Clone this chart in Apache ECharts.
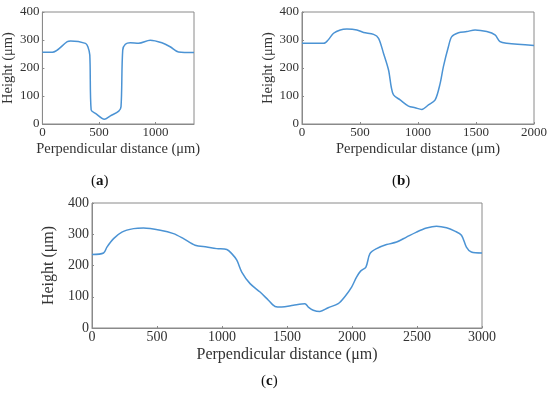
<!DOCTYPE html>
<html><head><meta charset="utf-8">
<script src="https://cdn.jsdelivr.net/npm/echarts@6/dist/echarts.min.js"></script>
<style>html,body{margin:0;padding:0;background:#fff}#c{width:550px;height:396px}</style>
</head><body><div id="c"></div>
<script>
// Panel (a)
const xA = [0, 88, 220, 249, 381, 402, 419, 431, 469, 548, 601, 675, 695, 710, 733, 777, 851, 953, 1056, 1129, 1203, 1340];
const yA = [256, 256, 294, 296, 288, 276, 246, 50, 38, 17, 29, 46, 62, 264, 285, 290, 288, 299, 290, 276, 257, 255];
// Panel (b)
const xB = [0, 186, 229, 272, 330, 387, 473, 531, 617, 660, 703, 746, 769, 789, 846, 918, 975, 1033, 1090, 1148, 1191, 1219, 1262, 1291, 1349, 1421, 1492, 1593, 1664, 1707, 1765, 2000];
const yB = [288, 288, 302, 324, 336, 339, 336, 327, 320, 306, 252, 193, 133, 104, 86, 64, 58, 52, 68, 86, 145, 205, 276, 312, 326, 330, 336, 330, 318, 294, 288, 280];
// Panel (c)
const xC = [0, 89, 115, 166, 230, 320, 396, 525, 627, 704, 793, 883, 960, 1037, 1075, 1114, 1152, 1216, 1293, 1357, 1408, 1459, 1549, 1638, 1664, 1702, 1753, 1817, 1894, 1946, 1997, 2035, 2066, 2107, 2138, 2189, 2266, 2343, 2419, 2496, 2573, 2650, 2727, 2791, 2842, 2880, 2918, 3000];
const yC = [235, 240, 259, 286, 307, 318, 320, 313, 302, 286, 265, 259, 254, 251, 238, 217, 179, 142, 115, 89, 69, 67, 73, 78, 67, 57, 53, 65, 78, 101, 131, 163, 182, 195, 238, 254, 267, 275, 291, 307, 320, 326, 321, 310, 297, 259, 243, 240];
const yTicks = [0, 100, 200, 300, 400];
const captions = ['a', 'b', 'c'];
const xLabel = 'Perpendicular distance (μm)';
const yLabel = 'Height (μm)';

const FONT = 'Liberation Serif';
const AX = '#8a8a8a';
const TXT = '#333';
const LINE = '#4b93d4';

function pairs(xs, ys) { return xs.map((x, i) => [x, ys[i]]); }

function xAxis(idx, max, interval, fs, nfs, gap) {
  return {
    type: 'value', gridIndex: idx, min: 0, max: max, interval: interval,
    name: xLabel, nameLocation: 'middle', nameGap: gap,
    nameTextStyle: { fontFamily: FONT, fontSize: nfs, color: TXT },
    axisLine: { show: true, onZero: false, lineStyle: { color: AX, width: 1 } },
    axisTick: { show: true, inside: true, length: 2, lineStyle: { color: AX } },
    axisLabel: { fontFamily: FONT, fontSize: fs, color: TXT, margin: 2, showMaxLabel: max % interval === 0,
      formatter: v => String(v) },
    splitLine: { show: false }
  };
}
function yAxis(idx, fs, nfs, gap) {
  return {
    type: 'value', gridIndex: idx, min: 0, max: 400, interval: 100,
    name: yLabel, nameLocation: 'middle', nameGap: gap,
    nameTextStyle: { fontFamily: FONT, fontSize: nfs, color: TXT },
    axisLine: { show: true, lineStyle: { color: AX, width: 1 } },
    axisTick: { show: true, inside: true, length: 2, lineStyle: { color: AX } },
    axisLabel: { fontFamily: FONT, fontSize: fs, color: TXT, margin: 3, formatter: v => String(v) },
    splitLine: { show: false }
  };
}
function series(idx, xs, ys) {
  return {
    type: 'line', xAxisIndex: idx, yAxisIndex: idx, data: pairs(xs, ys),
    showSymbol: false, smooth: 0.3, lineStyle: { color: LINE, width: 1.5 }
  };
}
function caption(letter, x, y, fs) {
  return {
    type: 'text', left: x, top: y,
    style: {
      text: '(' + '{b|' + letter + '})', fontFamily: FONT, fontSize: fs, fill: '#111',
      rich: { b: { fontFamily: FONT, fontSize: fs, fontWeight: 'bold', color: '#111' } }
    }
  };
}

const chart = echarts.init(document.getElementById('c'), null, { renderer: 'canvas' });
chart.setOption({
  backgroundColor: '#fff',
  animation: false,
  grid: [
    { left: 42, top: 12, width: 152, height: 112, show: true, borderColor: AX, borderWidth: 1 },
    { left: 302, top: 12, width: 232, height: 112, show: true, borderColor: AX, borderWidth: 1 },
    { left: 92, top: 203, width: 390, height: 125, show: true, borderColor: AX, borderWidth: 1 }
  ],
  xAxis: [
    xAxis(0, 1340, 500, 13, 14.5, 18),
    xAxis(1, 2000, 500, 13, 14.5, 18),
    xAxis(2, 3000, 500, 14, 16, 19)
  ],
  yAxis: [
    yAxis(0, 13, 14.5, 25),
    yAxis(1, 13, 14.5, 26),
    yAxis(2, 14, 16, 29)
  ],
  series: [series(0, xA, yA), series(1, xB, yB), series(2, xC, yC)],
  graphic: [
    caption(captions[0], 91, 174, 15),
    caption(captions[1], 392, 174, 15),
    caption(captions[2], 261, 374, 15)
  ]
});
</script></body></html>
